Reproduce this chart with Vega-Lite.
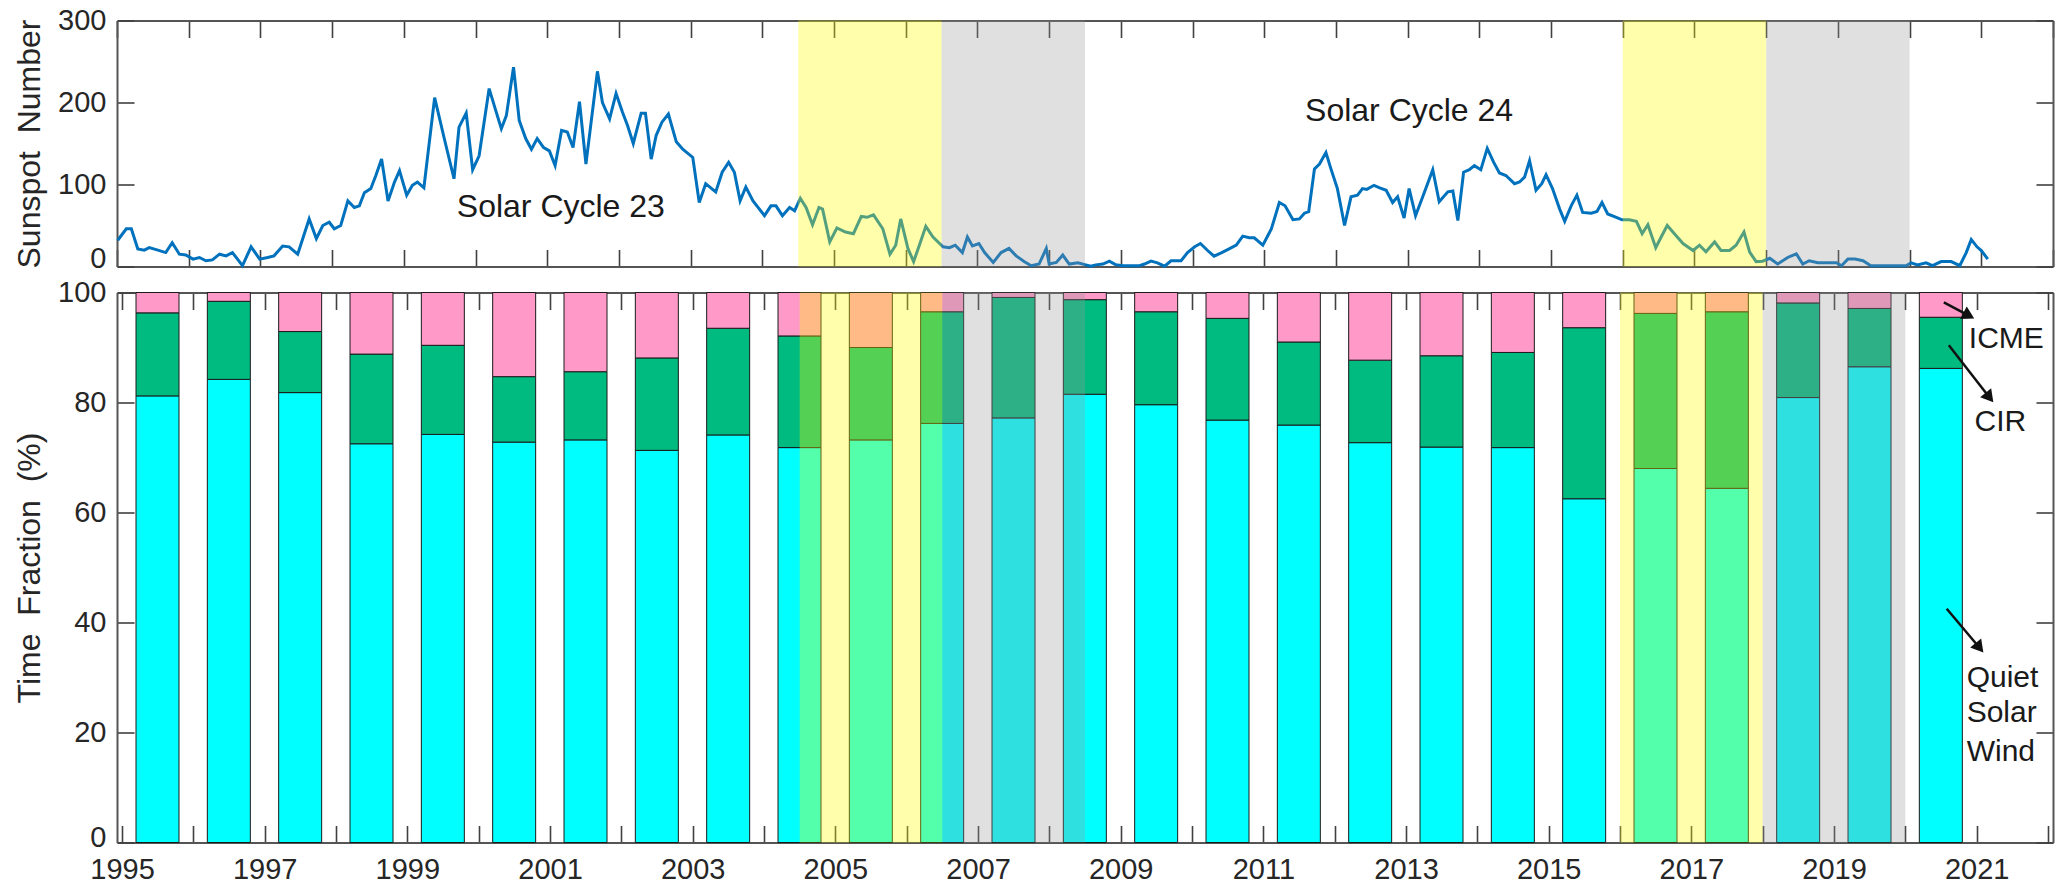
{
  "$schema": "https://vega.github.io/schema/vega-lite/v6.json",
  "background": "white",
  "padding": {"left": 13, "top": 6.5, "right": 5, "bottom": 0},
  "spacing": 26,
  "bounds": "flush",
  "datasets": {
    "ssn": [
      {"year":1995.01,"ssn":32},{"year":1995.13,"ssn":46},{"year":1995.20,"ssn":46},{"year":1995.29,"ssn":21.5},{"year":1995.38,"ssn":20},{"year":1995.45,"ssn":23},{"year":1995.57,"ssn":20},{"year":1995.68,"ssn":17},{"year":1995.77,"ssn":29},{"year":1995.87,"ssn":15},{"year":1995.96,"ssn":14},
      {"year":1996.06,"ssn":9},{"year":1996.15,"ssn":11},{"year":1996.24,"ssn":7},{"year":1996.33,"ssn":8},{"year":1996.43,"ssn":15},{"year":1996.52,"ssn":13},{"year":1996.61,"ssn":17},{"year":1996.75,"ssn":1},{"year":1996.87,"ssn":24},{"year":1996.99,"ssn":9},
      {"year":1997.10,"ssn":11},{"year":1997.19,"ssn":13},{"year":1997.31,"ssn":25},{"year":1997.40,"ssn":24},{"year":1997.52,"ssn":15},{"year":1997.68,"ssn":58},{"year":1997.78,"ssn":34},{"year":1997.87,"ssn":50},{"year":1997.96,"ssn":54},
      {"year":1998.03,"ssn":46},{"year":1998.12,"ssn":50},{"year":1998.22,"ssn":80},{"year":1998.31,"ssn":72},{"year":1998.38,"ssn":74},{"year":1998.45,"ssn":90},{"year":1998.54,"ssn":95},{"year":1998.61,"ssn":111},{"year":1998.69,"ssn":131},{"year":1998.78,"ssn":80},{"year":1998.87,"ssn":103},{"year":1998.94,"ssn":117},
      {"year":1999.04,"ssn":87},{"year":1999.12,"ssn":99},{"year":1999.19,"ssn":103},{"year":1999.28,"ssn":96},{"year":1999.43,"ssn":206},{"year":1999.57,"ssn":154},{"year":1999.70,"ssn":107},{"year":1999.77,"ssn":170},{"year":1999.87,"ssn":187},{"year":1999.96,"ssn":118},
      {"year":2000.05,"ssn":135},{"year":2000.19,"ssn":217},{"year":2000.29,"ssn":188},{"year":2000.36,"ssn":168},{"year":2000.43,"ssn":184},{"year":2000.53,"ssn":243},{"year":2000.61,"ssn":178},{"year":2000.70,"ssn":156},{"year":2000.78,"ssn":143},{"year":2000.86,"ssn":156},{"year":2000.95,"ssn":145},
      {"year":2001.03,"ssn":141},{"year":2001.11,"ssn":123},{"year":2001.20,"ssn":166},{"year":2001.28,"ssn":164},{"year":2001.36,"ssn":145},{"year":2001.45,"ssn":201},{"year":2001.54,"ssn":125},{"year":2001.70,"ssn":238},{"year":2001.77,"ssn":200},{"year":2001.87,"ssn":180},{"year":2001.96,"ssn":211},
      {"year":2002.05,"ssn":188},{"year":2002.12,"ssn":172},{"year":2002.20,"ssn":150},{"year":2002.31,"ssn":187},{"year":2002.37,"ssn":187},{"year":2002.45,"ssn":131},{"year":2002.52,"ssn":160},{"year":2002.60,"ssn":176},{"year":2002.69,"ssn":186},{"year":2002.80,"ssn":152},{"year":2002.89,"ssn":143},
      {"year":2003.03,"ssn":133},{"year":2003.12,"ssn":78},{"year":2003.21,"ssn":101},{"year":2003.35,"ssn":91},{"year":2003.44,"ssn":115},{"year":2003.53,"ssn":127},{"year":2003.61,"ssn":115},{"year":2003.69,"ssn":80},{"year":2003.77,"ssn":97},{"year":2003.87,"ssn":80},{"year":2003.94,"ssn":72},
      {"year":2004.03,"ssn":62},{"year":2004.12,"ssn":74},{"year":2004.19,"ssn":74},{"year":2004.28,"ssn":62},{"year":2004.38,"ssn":72},{"year":2004.45,"ssn":68},{"year":2004.53,"ssn":83},{"year":2004.61,"ssn":72},{"year":2004.70,"ssn":51},{"year":2004.79,"ssn":72},{"year":2004.84,"ssn":70},{"year":2004.94,"ssn":30},
      {"year":2005.04,"ssn":47},{"year":2005.16,"ssn":42},{"year":2005.27,"ssn":40},{"year":2005.38,"ssn":61},{"year":2005.46,"ssn":60},{"year":2005.55,"ssn":63},{"year":2005.68,"ssn":46},{"year":2005.78,"ssn":15},{"year":2005.86,"ssn":26},{"year":2005.93,"ssn":58},
      {"year":2006.03,"ssn":22},{"year":2006.11,"ssn":6},{"year":2006.19,"ssn":26},{"year":2006.28,"ssn":49},{"year":2006.38,"ssn":36},{"year":2006.52,"ssn":24},{"year":2006.61,"ssn":23},{"year":2006.69,"ssn":26},{"year":2006.79,"ssn":17},{"year":2006.86,"ssn":36},{"year":2006.93,"ssn":25},
      {"year":2007.02,"ssn":28},{"year":2007.10,"ssn":17},{"year":2007.22,"ssn":5},{"year":2007.33,"ssn":17},{"year":2007.44,"ssn":22},{"year":2007.54,"ssn":13},{"year":2007.65,"ssn":6},{"year":2007.75,"ssn":1},{"year":2007.86,"ssn":3},{"year":2007.96,"ssn":22},
      {"year":2008.00,"ssn":3},{"year":2008.10,"ssn":5},{"year":2008.19,"ssn":14},{"year":2008.28,"ssn":3},{"year":2008.40,"ssn":4.5},{"year":2008.51,"ssn":2},{"year":2008.58,"ssn":0.4},{"year":2008.65,"ssn":2},{"year":2008.75,"ssn":3},{"year":2008.84,"ssn":6.5},{"year":2008.93,"ssn":2},
      {"year":2009.03,"ssn":1},{"year":2009.14,"ssn":1},{"year":2009.26,"ssn":1},{"year":2009.33,"ssn":3},{"year":2009.42,"ssn":6.5},{"year":2009.51,"ssn":4.5},{"year":2009.61,"ssn":0.4},{"year":2009.70,"ssn":7},{"year":2009.84,"ssn":7},{"year":2009.93,"ssn":17},
      {"year":2010.03,"ssn":24},{"year":2010.11,"ssn":28},{"year":2010.21,"ssn":19.5},{"year":2010.30,"ssn":12.6},{"year":2010.40,"ssn":16.7},{"year":2010.51,"ssn":21.5},{"year":2010.61,"ssn":26},{"year":2010.70,"ssn":37},{"year":2010.79,"ssn":35},{"year":2010.86,"ssn":35},{"year":2010.98,"ssn":26},
      {"year":2011.10,"ssn":46},{"year":2011.21,"ssn":78},{"year":2011.29,"ssn":74},{"year":2011.40,"ssn":57},{"year":2011.49,"ssn":58},{"year":2011.56,"ssn":65},{"year":2011.62,"ssn":67},{"year":2011.70,"ssn":119},{"year":2011.77,"ssn":125},{"year":2011.86,"ssn":139},{"year":2011.93,"ssn":119},
      {"year":2012.02,"ssn":95},{"year":2012.12,"ssn":50},{"year":2012.21,"ssn":85},{"year":2012.30,"ssn":87},{"year":2012.37,"ssn":95},{"year":2012.43,"ssn":94},{"year":2012.53,"ssn":99},{"year":2012.61,"ssn":96},{"year":2012.70,"ssn":93},{"year":2012.79,"ssn":78},{"year":2012.86,"ssn":85},{"year":2012.95,"ssn":59},
      {"year":2013.02,"ssn":95},{"year":2013.11,"ssn":62},{"year":2013.21,"ssn":85},{"year":2013.35,"ssn":118},{"year":2013.44,"ssn":79},{"year":2013.56,"ssn":91},{"year":2013.63,"ssn":92},{"year":2013.70,"ssn":56},{"year":2013.78,"ssn":115},{"year":2013.86,"ssn":118},{"year":2013.93,"ssn":123},
      {"year":2014.02,"ssn":118},{"year":2014.11,"ssn":144},{"year":2014.20,"ssn":127},{"year":2014.28,"ssn":114},{"year":2014.37,"ssn":111},{"year":2014.49,"ssn":101},{"year":2014.56,"ssn":103},{"year":2014.63,"ssn":109},{"year":2014.70,"ssn":129},{"year":2014.79,"ssn":93},{"year":2014.87,"ssn":101},{"year":2014.93,"ssn":112},
      {"year":2015.02,"ssn":95},{"year":2015.12,"ssn":70},{"year":2015.19,"ssn":55},{"year":2015.28,"ssn":74},{"year":2015.36,"ssn":87},{"year":2015.44,"ssn":66},{"year":2015.56,"ssn":65},{"year":2015.64,"ssn":67},{"year":2015.71,"ssn":78},{"year":2015.79,"ssn":64},{"year":2015.91,"ssn":60},{"year":2015.99,"ssn":57},
      {"year":2016.09,"ssn":57},{"year":2016.19,"ssn":55},{"year":2016.27,"ssn":40},{"year":2016.35,"ssn":51},{"year":2016.46,"ssn":23},{"year":2016.53,"ssn":35},{"year":2016.62,"ssn":50},{"year":2016.72,"ssn":40},{"year":2016.84,"ssn":28},{"year":2016.98,"ssn":19.5},
      {"year":2017.07,"ssn":26},{"year":2017.16,"ssn":18},{"year":2017.28,"ssn":30},{"year":2017.37,"ssn":19.5},{"year":2017.49,"ssn":19.5},{"year":2017.58,"ssn":26},{"year":2017.69,"ssn":42},{"year":2017.77,"ssn":17.5},{"year":2017.86,"ssn":6},{"year":2017.95,"ssn":6.5},
      {"year":2018.05,"ssn":10},{"year":2018.16,"ssn":3},{"year":2018.30,"ssn":11},{"year":2018.42,"ssn":15.5},{"year":2018.51,"ssn":3},{"year":2018.60,"ssn":7},{"year":2018.72,"ssn":4.5},{"year":2018.86,"ssn":4.5},{"year":2018.98,"ssn":4.5},
      {"year":2019.05,"ssn":1},{"year":2019.14,"ssn":9},{"year":2019.24,"ssn":9},{"year":2019.35,"ssn":7},{"year":2019.46,"ssn":1},{"year":2019.63,"ssn":1},{"year":2019.81,"ssn":1},{"year":2019.95,"ssn":1},
      {"year":2020.02,"ssn":4.5},{"year":2020.11,"ssn":2},{"year":2020.23,"ssn":4.5},{"year":2020.32,"ssn":1},{"year":2020.44,"ssn":6},{"year":2020.58,"ssn":6},{"year":2020.70,"ssn":1},{"year":2020.79,"ssn":17},{"year":2020.86,"ssn":33},{"year":2020.94,"ssn":24},
      {"year":2021.00,"ssn":19.5},{"year":2021.09,"ssn":9}
    ],
    "fractions": [
      {"year":1995,"type":"Quiet Solar Wind","k":1,"value":81.2},{"year":1995,"type":"CIR","k":2,"value":15.1},{"year":1995,"type":"ICME","k":3,"value":3.7},
      {"year":1996,"type":"Quiet Solar Wind","k":1,"value":84.2},{"year":1996,"type":"CIR","k":2,"value":14.2},{"year":1996,"type":"ICME","k":3,"value":1.6},
      {"year":1997,"type":"Quiet Solar Wind","k":1,"value":81.8},{"year":1997,"type":"CIR","k":2,"value":11.1},{"year":1997,"type":"ICME","k":3,"value":7.1},
      {"year":1998,"type":"Quiet Solar Wind","k":1,"value":72.5},{"year":1998,"type":"CIR","k":2,"value":16.3},{"year":1998,"type":"ICME","k":3,"value":11.2},
      {"year":1999,"type":"Quiet Solar Wind","k":1,"value":74.2},{"year":1999,"type":"CIR","k":2,"value":16.2},{"year":1999,"type":"ICME","k":3,"value":9.6},
      {"year":2000,"type":"Quiet Solar Wind","k":1,"value":72.8},{"year":2000,"type":"CIR","k":2,"value":11.9},{"year":2000,"type":"ICME","k":3,"value":15.3},
      {"year":2001,"type":"Quiet Solar Wind","k":1,"value":73.2},{"year":2001,"type":"CIR","k":2,"value":12.4},{"year":2001,"type":"ICME","k":3,"value":14.4},
      {"year":2002,"type":"Quiet Solar Wind","k":1,"value":71.3},{"year":2002,"type":"CIR","k":2,"value":16.8},{"year":2002,"type":"ICME","k":3,"value":11.9},
      {"year":2003,"type":"Quiet Solar Wind","k":1,"value":74.1},{"year":2003,"type":"CIR","k":2,"value":19.4},{"year":2003,"type":"ICME","k":3,"value":6.5},
      {"year":2004,"type":"Quiet Solar Wind","k":1,"value":71.8},{"year":2004,"type":"CIR","k":2,"value":20.3},{"year":2004,"type":"ICME","k":3,"value":7.9},
      {"year":2005,"type":"Quiet Solar Wind","k":1,"value":73.2},{"year":2005,"type":"CIR","k":2,"value":16.8},{"year":2005,"type":"ICME","k":3,"value":10.0},
      {"year":2006,"type":"Quiet Solar Wind","k":1,"value":76.2},{"year":2006,"type":"CIR","k":2,"value":20.3},{"year":2006,"type":"ICME","k":3,"value":3.5},
      {"year":2007,"type":"Quiet Solar Wind","k":1,"value":77.2},{"year":2007,"type":"CIR","k":2,"value":21.9},{"year":2007,"type":"ICME","k":3,"value":0.9},
      {"year":2008,"type":"Quiet Solar Wind","k":1,"value":81.5},{"year":2008,"type":"CIR","k":2,"value":17.2},{"year":2008,"type":"ICME","k":3,"value":1.3},
      {"year":2009,"type":"Quiet Solar Wind","k":1,"value":79.6},{"year":2009,"type":"CIR","k":2,"value":16.9},{"year":2009,"type":"ICME","k":3,"value":3.5},
      {"year":2010,"type":"Quiet Solar Wind","k":1,"value":76.8},{"year":2010,"type":"CIR","k":2,"value":18.5},{"year":2010,"type":"ICME","k":3,"value":4.7},
      {"year":2011,"type":"Quiet Solar Wind","k":1,"value":75.9},{"year":2011,"type":"CIR","k":2,"value":15.1},{"year":2011,"type":"ICME","k":3,"value":9.0},
      {"year":2012,"type":"Quiet Solar Wind","k":1,"value":72.7},{"year":2012,"type":"CIR","k":2,"value":15.0},{"year":2012,"type":"ICME","k":3,"value":12.3},
      {"year":2013,"type":"Quiet Solar Wind","k":1,"value":71.9},{"year":2013,"type":"CIR","k":2,"value":16.6},{"year":2013,"type":"ICME","k":3,"value":11.5},
      {"year":2014,"type":"Quiet Solar Wind","k":1,"value":71.8},{"year":2014,"type":"CIR","k":2,"value":17.3},{"year":2014,"type":"ICME","k":3,"value":10.9},
      {"year":2015,"type":"Quiet Solar Wind","k":1,"value":62.5},{"year":2015,"type":"CIR","k":2,"value":31.1},{"year":2015,"type":"ICME","k":3,"value":6.4},
      {"year":2016,"type":"Quiet Solar Wind","k":1,"value":68.0},{"year":2016,"type":"CIR","k":2,"value":28.2},{"year":2016,"type":"ICME","k":3,"value":3.8},
      {"year":2017,"type":"Quiet Solar Wind","k":1,"value":64.4},{"year":2017,"type":"CIR","k":2,"value":32.1},{"year":2017,"type":"ICME","k":3,"value":3.5},
      {"year":2018,"type":"Quiet Solar Wind","k":1,"value":80.9},{"year":2018,"type":"CIR","k":2,"value":17.2},{"year":2018,"type":"ICME","k":3,"value":1.9},
      {"year":2019,"type":"Quiet Solar Wind","k":1,"value":86.5},{"year":2019,"type":"CIR","k":2,"value":10.6},{"year":2019,"type":"ICME","k":3,"value":2.9},
      {"year":2020,"type":"Quiet Solar Wind","k":1,"value":86.2},{"year":2020,"type":"CIR","k":2,"value":9.3},{"year":2020,"type":"ICME","k":3,"value":4.5}
    ],
    "declining": [{"start": 2004.5, "end": 2006.5}, {"start": 2016.0, "end": 2018.0}],
    "minimum": [{"start": 2006.5, "end": 2008.5}, {"start": 2018.0, "end": 2020.0}],
    "cycles": [{"label": "Solar Cycle 23", "x": 2001.19, "y": 72}, {"label": "Solar Cycle 24", "x": 2013.02, "y": 190}],
    "labels": [
      {"label": "ICME", "x": 2020.89, "y": 91.6},
      {"label": "CIR", "x": 2020.97, "y": 76.4},
      {"label": "Quiet", "x": 2020.86, "y": 30.0},
      {"label": "Solar", "x": 2020.86, "y": 23.5},
      {"label": "Wind", "x": 2020.86, "y": 16.4}
    ],
    "arrows": [
      {"name": "ICME", "x": 2020.54, "y": 98.2, "x2": 2020.89, "y2": 95.8},
      {"name": "CIR", "x": 2020.61, "y": 90.4, "x2": 2021.18, "y2": 80.9},
      {"name": "Quiet", "x": 2020.58, "y": 42.5, "x2": 2021.04, "y2": 35.4}
    ]
  },
  "vconcat": [
    {
      "width": 1936,
      "height": 246,
      "layer": [
        {
          "data": {"name": "ssn"},
          "mark": {"type": "line", "color": "#0072BD", "strokeWidth": 3},
          "encoding": {
            "x": {"field": "year", "type": "quantitative",
                  "scale": {"domain": [1995, 2022], "nice": false, "zero": false},
                  "axis": {"orient": "bottom", "title": null, "labels": false,
                           "values": [1995,1996,1997,1998,1999,2000,2001,2002,2003,2004,2005,2006,2007,2008,2009,2010,2011,2012,2013,2014,2015,2016,2017,2018,2019,2020,2021,2022]}},
            "y": {"field": "ssn", "type": "quantitative",
                  "scale": {"domain": [0, 300], "nice": false},
                  "axis": {"orient": "left", "title": "Sunspot\u00a0\u00a0Number", "values": [0, 100, 200, 300], "labelPadding": 28, "titlePadding": 11,
                           "labelOffset": {"condition": {"test": "datum.value == 0", "value": -8}, "value": 0}}}
          }
        },
        {
          "data": {"name": "declining"},
          "mark": {"type": "rect", "color": "#FFFF00", "opacity": 0.33},
          "encoding": {
            "x": {"field": "start", "type": "quantitative",
                  "axis": {"orient": "top", "title": null, "labels": false,
                           "values": [1995,1996,1997,1998,1999,2000,2001,2002,2003,2004,2005,2006,2007,2008,2009,2010,2011,2012,2013,2014,2015,2016,2017,2018,2019,2020,2021,2022]}},
            "x2": {"field": "end"},
            "y": {"datum": 0, "type": "quantitative", "axis": {"orient": "right", "title": null, "labels": false, "values": [0, 100, 200, 300]}},
            "y2": {"datum": 300}
          }
        },
        {
          "data": {"name": "minimum"},
          "mark": {"type": "rect", "color": "#999999", "opacity": 0.3},
          "encoding": {
            "x": {"field": "start", "type": "quantitative", "axis": null},
            "x2": {"field": "end"},
            "y": {"datum": 0, "type": "quantitative", "axis": null},
            "y2": {"datum": 300}
          }
        },
        {
          "data": {"name": "cycles"},
          "mark": {"type": "text", "font": "Liberation Sans", "fontSize": 32, "color": "#1a1a1a", "align": "center", "baseline": "middle"},
          "encoding": {
            "x": {"field": "x", "type": "quantitative", "axis": null},
            "y": {"field": "y", "type": "quantitative", "axis": null},
            "text": {"field": "label"}
          }
        }
      ],
      "resolve": {"axis": {"x": "independent", "y": "independent"}}
    },
    {
      "width": 1936,
      "height": 550,
      "layer": [
        {
          "data": {"name": "fractions"},
          "mark": {"type": "bar", "width": 43, "xOffset": 35.5, "stroke": "#1a1a1a", "strokeWidth": 1},
          "encoding": {
            "x": {"field": "year", "type": "quantitative",
                  "scale": {"domain": [1995, 2022], "nice": false, "zero": false},
                  "axis": {"orient": "bottom", "title": null, "format": "d", "labelPadding": 30,
                           "labelExpr": "datum.value % 2 == 1 ? datum.label : ''",
                           "values": [1995,1996,1997,1998,1999,2000,2001,2002,2003,2004,2005,2006,2007,2008,2009,2010,2011,2012,2013,2014,2015,2016,2017,2018,2019,2020,2021,2022]}},
            "y": {"field": "value", "type": "quantitative", "stack": "zero",
                  "scale": {"domain": [0, 100], "nice": false},
                  "axis": {"orient": "left", "title": "Time\u00a0\u00a0Fraction\u00a0\u00a0(%)", "values": [0, 20, 40, 60, 80, 100], "labelPadding": 28, "titlePadding": 11,
                           "labelOffset": {"condition": {"test": "datum.value == 0", "value": -5}, "value": 0}}},
            "color": {"field": "type", "type": "nominal",
                      "scale": {"domain": ["Quiet Solar Wind", "CIR", "ICME"], "range": ["#00FFFF", "#00BB7F", "#FF99C8"]},
                      "legend": null},
            "order": {"field": "k", "type": "quantitative"}
          }
        },
        {
          "data": {"name": "declining"},
          "mark": {"type": "rect", "color": "#FFFF00", "opacity": 0.33},
          "encoding": {
            "x": {"field": "start", "type": "quantitative",
                  "axis": {"orient": "top", "title": null, "labels": false,
                           "values": [1995,1996,1997,1998,1999,2000,2001,2002,2003,2004,2005,2006,2007,2008,2009,2010,2011,2012,2013,2014,2015,2016,2017,2018,2019,2020,2021,2022]}},
            "x2": {"field": "end"},
            "y": {"datum": 0, "type": "quantitative", "axis": {"orient": "right", "title": null, "labels": false, "values": [0, 20, 40, 60, 80, 100]}},
            "y2": {"datum": 100}
          }
        },
        {
          "data": {"name": "minimum"},
          "mark": {"type": "rect", "color": "#999999", "opacity": 0.3},
          "encoding": {
            "x": {"field": "start", "type": "quantitative", "axis": null},
            "x2": {"field": "end"},
            "y": {"datum": 0, "type": "quantitative", "axis": null},
            "y2": {"datum": 100}
          }
        },
        {
          "data": {"name": "arrows"},
          "mark": {"type": "rule", "color": "#111111", "strokeWidth": 2.5},
          "encoding": {
            "x": {"field": "x", "type": "quantitative", "axis": null},
            "y": {"field": "y", "type": "quantitative", "axis": null},
            "x2": {"field": "x2"},
            "y2": {"field": "y2"}
          }
        },
        {
          "data": {"name": "arrows"},
          "transform": [{"filter": "datum.name == 'ICME'"}],
          "mark": {"type": "point", "shape": "triangle-up", "filled": true, "color": "#111111", "opacity": 1, "size": 200, "angle": 118},
          "encoding": {
            "x": {"field": "x2", "type": "quantitative", "axis": null},
            "y": {"field": "y2", "type": "quantitative", "axis": null}
          }
        },
        {
          "data": {"name": "arrows"},
          "transform": [{"filter": "datum.name != 'ICME'"}],
          "mark": {"type": "point", "shape": "triangle-up", "filled": true, "color": "#111111", "opacity": 1, "size": 200, "angle": 141},
          "encoding": {
            "x": {"field": "x2", "type": "quantitative", "axis": null},
            "y": {"field": "y2", "type": "quantitative", "axis": null}
          }
        },
        {
          "data": {"name": "labels"},
          "mark": {"type": "text", "font": "Liberation Sans", "fontSize": 30, "color": "#1a1a1a", "align": "left", "baseline": "middle"},
          "encoding": {
            "x": {"field": "x", "type": "quantitative", "axis": null},
            "y": {"field": "y", "type": "quantitative", "axis": null},
            "text": {"field": "label"}
          }
        }
      ],
      "resolve": {"axis": {"x": "independent", "y": "independent"}}
    }
  ],
  "config": {
    "font": "Liberation Sans",
    "view": {"stroke": null},
    "axis": {
      "labelFont": "Liberation Sans", "labelFontSize": 29, "labelColor": "#262626",
      "titleFont": "Liberation Sans", "titleFontSize": 32, "titleFontWeight": "normal", "titleColor": "#262626",
      "tickColor": "#404040", "tickWidth": 1.6, "tickSize": -17,
      "domainColor": "#555555", "domainWidth": 2,
      "grid": false, "zindex": 1,
      "labelFlush": false, "labelOverlap": false, "labelBound": false
    }
  }
}
